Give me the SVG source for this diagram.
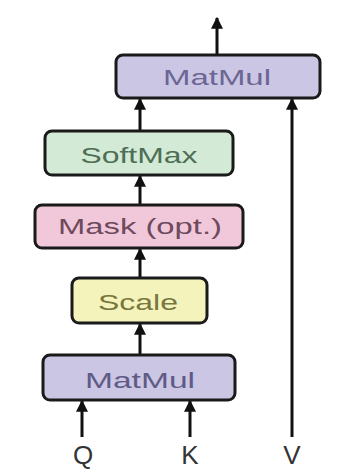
<svg xmlns="http://www.w3.org/2000/svg" width="345" height="471" viewBox="0 0 345 471">
<defs>
<marker id="ah" viewBox="0 0 10 10" refX="9" refY="5" markerWidth="4" markerHeight="4" orient="auto" markerUnits="strokeWidth">
<path d="M0,0 L10,5 L0,10 z" fill="#111"/>
</marker>
<style>
.box{stroke:#1a1a1a;stroke-width:3}
.t{font-family:"Liberation Sans",Arial,sans-serif;font-size:22px;text-anchor:middle}
.lbl{font-family:"Liberation Sans",Arial,sans-serif;font-size:26px;text-anchor:middle;fill:#333}
.c{stroke:#111;stroke-width:3;fill:none;marker-end:url(#ah)}
</style>
</defs>
<rect width="345" height="471" fill="#ffffff"/>
<g id="connectors">
<line class="c" x1="217" y1="55" x2="217" y2="18"/>
<line class="c" x1="140" y1="131" x2="140" y2="99"/>
<line class="c" x1="140" y1="205" x2="140" y2="176"/>
<line class="c" x1="140" y1="278" x2="140" y2="249"/>
<line class="c" x1="140" y1="355" x2="140" y2="324"/>
<line class="c" x1="82" y1="437" x2="82" y2="401"/>
<line class="c" x1="190" y1="437" x2="190" y2="401"/>
<line class="c" x1="292" y1="437" x2="292" y2="99"/>
</g>
<g id="matmul-top">
<rect class="box" x="116" y="55" width="204" height="43" rx="7" fill="#cbc6e3"/>
<text class="t" x="217" y="85" fill="#6b6693" textLength="108" lengthAdjust="spacingAndGlyphs">MatMul</text>
</g>
<g id="softmax">
<rect class="box" x="45" y="131" width="188" height="44" rx="7" fill="#d2ead6"/>
<text class="t" x="139" y="163" fill="#4f6e56" textLength="117" lengthAdjust="spacingAndGlyphs">SoftMax</text>
</g>
<g id="mask">
<rect class="box" x="35" y="205" width="208" height="43" rx="7" fill="#f1c8da"/>
<text class="t" x="140" y="234" fill="#6e4a5e" textLength="164" lengthAdjust="spacingAndGlyphs">Mask (opt.)</text>
</g>
<g id="scale">
<rect class="box" x="72" y="278" width="135" height="45" rx="7" fill="#f5f3bc"/>
<text class="t" x="138" y="310" fill="#77773f" textLength="80" lengthAdjust="spacingAndGlyphs">Scale</text>
</g>
<g id="matmul-bottom">
<rect class="box" x="43" y="355" width="192" height="45" rx="7" fill="#cbc6e3"/>
<text class="t" x="140" y="388" fill="#5f5a86" textLength="110" lengthAdjust="spacingAndGlyphs">MatMul</text>
</g>
<g id="inputs">
<text class="lbl" x="83" y="464">Q</text>
<text class="lbl" x="190" y="464">K</text>
<text class="lbl" x="292" y="464">V</text>
</g>
</svg>
